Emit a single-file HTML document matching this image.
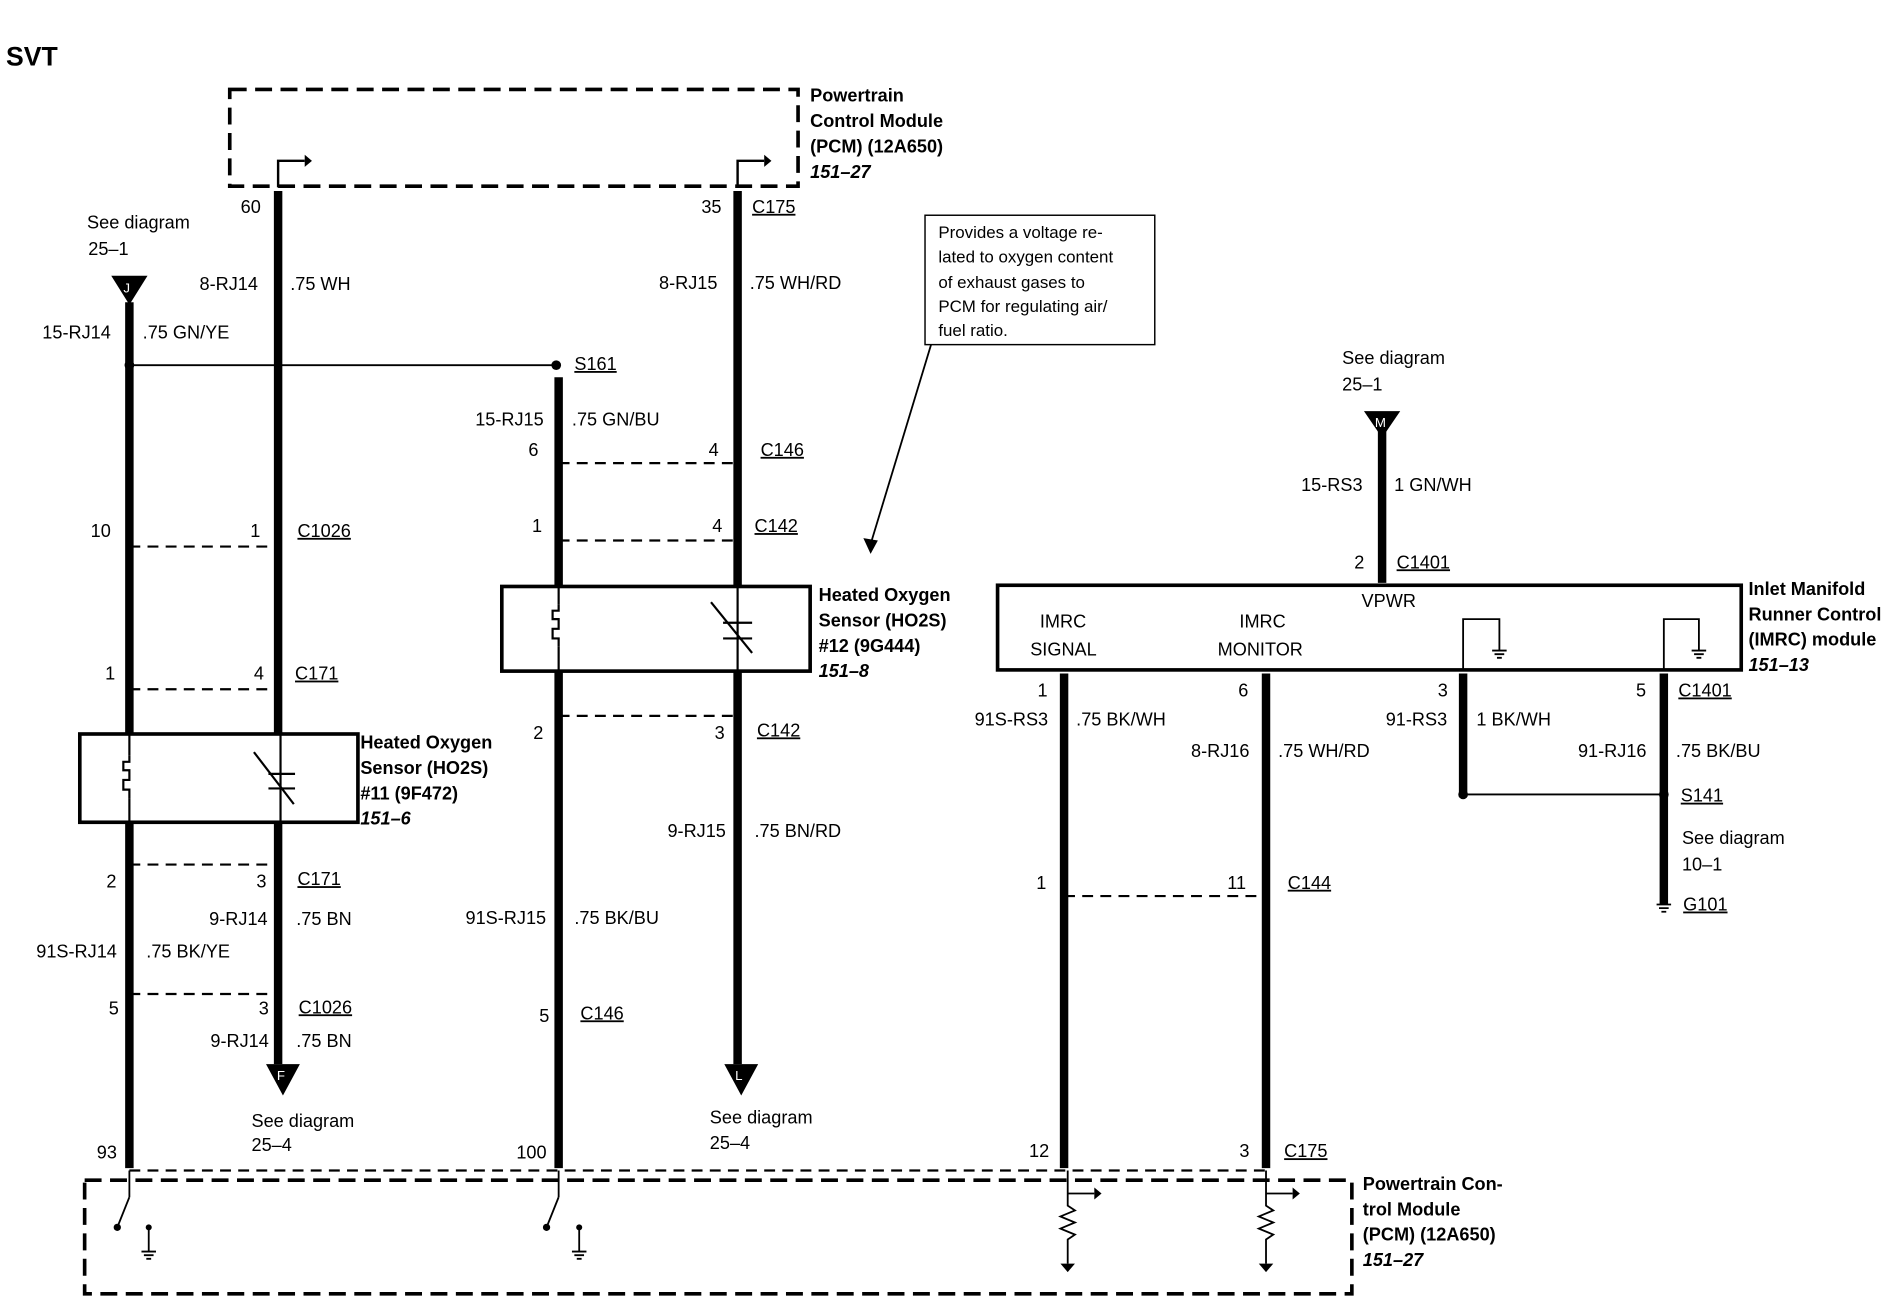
<!DOCTYPE html>
<html><head><meta charset="utf-8"><style>
html,body{margin:0;padding:0;background:#fff;}
svg{display:block;}
text{font-family:"Liberation Sans",Arial,sans-serif;font-size:15px;fill:#000;}
.b{font-weight:bold;}
.i{font-weight:bold;font-style:italic;}
</style></head><body>
<svg width="1896" height="1312" viewBox="0 0 1568 1085" preserveAspectRatio="none" xmlns="http://www.w3.org/2000/svg">
<rect width="1568" height="1085" fill="#fff"/>
<text x="5" y="54" class="b" style="font-size:22px">SVT</text>

<rect x="190" y="74" width="470" height="80" fill="none" stroke="#000" stroke-width="3" stroke-dasharray="14,7"/>
<text x="670" y="84" class="b">Powertrain</text>
<text x="670" y="105" class="b">Control Module</text>
<text x="670" y="126" class="b">(PCM) (12A650)</text>
<text x="670" y="147" class="i">151–27</text>
<g stroke="#000" stroke-width="2" fill="none">
<path d="M230 155 V133 H252"/><path d="M610 155 V133 H632"/>
</g>
<path d="M252 128 L258 133 L252 138Z M632 128 L638 133 L632 138Z"/>

<g stroke="#000" stroke-width="7" fill="none">
<line x1="230" y1="158" x2="230" y2="880"/>
<line x1="610" y1="158" x2="610" y2="880"/>
<line x1="107" y1="250" x2="107" y2="966"/>
<line x1="462" y1="312" x2="462" y2="966"/>
<line x1="1143" y1="355" x2="1143" y2="482"/>
<line x1="880" y1="557" x2="880" y2="966"/>
<line x1="1047" y1="557" x2="1047" y2="966"/>
<line x1="1210" y1="557" x2="1210" y2="655"/>
<line x1="1376" y1="557" x2="1376" y2="748"/>
</g>
<path d="M220 880 H248 L234 906Z M599 880 H627 L613 906Z"/>
<text x="229" y="893" style="font-size:11px;fill:#fff">F</text>
<text x="608" y="893" style="font-size:11px;fill:#fff">L</text>
<path d="M92 228 H122 L107 252Z M1128 340 H1158 L1143 362Z"/>
<text x="102" y="242" style="font-size:11px;fill:#fff">J</text>
<text x="1137" y="353" style="font-size:11px;fill:#fff">M</text>

<g stroke="#000" stroke-width="1.5" fill="none">
<line x1="107" y1="302" x2="460" y2="302"/>
<line x1="1210" y1="657" x2="1376" y2="657"/>
<line x1="770" y1="285" x2="720" y2="450"/>
</g>
<path d="M714 445 L720 458 L726 447Z"/>
<circle cx="107" cy="302" r="4"/><circle cx="460" cy="302" r="4"/>
<circle cx="1210" cy="657" r="4"/><circle cx="1376" cy="657" r="4"/>

<g stroke="#000" stroke-width="1.8" stroke-dasharray="9,6" fill="none">
<line x1="107" y1="452" x2="232" y2="452"/>
<line x1="107" y1="570" x2="232" y2="570"/>
<line x1="107" y1="715" x2="232" y2="715"/>
<line x1="107" y1="822" x2="232" y2="822"/>
<line x1="462" y1="383" x2="610" y2="383"/>
<line x1="462" y1="447" x2="610" y2="447"/>
<line x1="462" y1="592" x2="610" y2="592"/>
<line x1="880" y1="741" x2="1047" y2="741"/>
<line x1="107" y1="968" x2="1047" y2="968"/>
</g>

<rect x="66" y="607" width="230" height="73" fill="#fff" stroke="#000" stroke-width="3"/>
<g stroke="#000" stroke-width="1.8" fill="none">
<line x1="107" y1="607" x2="107" y2="625"/><line x1="107" y1="660" x2="107" y2="680"/><line x1="232" y1="607" x2="232" y2="680"/>
<path d="M107 625 V630 H102 V637 H107 V645 H102 V653 H107 V660"/>
<line x1="210" y1="622" x2="243" y2="665"/><line x1="222" y1="640" x2="244" y2="640"/><line x1="222" y1="652" x2="244" y2="652"/>
</g>
<text x="298" y="619" class="b">Heated Oxygen</text>
<text x="298" y="640" class="b">Sensor (HO2S)</text>
<text x="298" y="661" class="b">#11 (9F472)</text>
<text x="298" y="682" class="i">151–6</text>

<rect x="415" y="485" width="255" height="70" fill="#fff" stroke="#000" stroke-width="3"/>
<g stroke="#000" stroke-width="1.8" fill="none">
<line x1="462" y1="485" x2="462" y2="500"/><line x1="462" y1="535" x2="462" y2="555"/><line x1="610" y1="485" x2="610" y2="555"/>
<path d="M462 500 V505 H457 V512 H462 V520 H457 V528 H462 V535"/>
<line x1="588" y1="498" x2="622" y2="540"/><line x1="598" y1="515" x2="622" y2="515"/><line x1="598" y1="528" x2="622" y2="528"/>
</g>
<text x="677" y="497" class="b">Heated Oxygen</text>
<text x="677" y="518" class="b">Sensor (HO2S)</text>
<text x="677" y="539" class="b">#12 (9G444)</text>
<text x="677" y="560" class="i">151–8</text>

<rect x="765" y="178" width="190" height="107" fill="#fff" stroke="#000" stroke-width="1.2"/>
<text x="776" y="197" style="font-size:14px">Provides a voltage re-</text>
<text x="776" y="217" style="font-size:14px">lated to oxygen content</text>
<text x="776" y="238" style="font-size:14px">of exhaust gases to</text>
<text x="776" y="258" style="font-size:14px">PCM for regulating air/</text>
<text x="776" y="278" style="font-size:14px">fuel ratio.</text>

<rect x="825" y="484" width="615" height="70" fill="#fff" stroke="#000" stroke-width="3"/>
<text x="1126" y="502">VPWR</text>
<text x="860" y="519">IMRC</text><text x="852" y="542">SIGNAL</text>
<text x="1025" y="519">IMRC</text><text x="1007" y="542">MONITOR</text>
<g stroke="#000" stroke-width="1.5" fill="none">
<path d="M1210 554 V512 H1240 V538"/><path d="M1376 554 V512 H1405 V538"/>
<path d="M1234 538 H1246 M1236 541 H1244 M1238 544 H1242"/>
<path d="M1399 538 H1411 M1401 541 H1409 M1403 544 H1407"/>
<path d="M1370 748 H1382 M1372 751 H1380 M1374 754 H1378"/>
</g>
<text x="1446" y="492" class="b">Inlet Manifold</text>
<text x="1446" y="513" class="b">Runner Control</text>
<text x="1446" y="534" class="b">(IMRC) module</text>
<text x="1446" y="555" class="i">151–13</text>

<rect x="70" y="976" width="1048" height="94" fill="none" stroke="#000" stroke-width="3" stroke-dasharray="14,7"/>
<text x="1127" y="984" class="b">Powertrain Con-</text>
<text x="1127" y="1005" class="b">trol Module</text>
<text x="1127" y="1026" class="b">(PCM) (12A650)</text>
<text x="1127" y="1047" class="i">151–27</text>
<g stroke="#000" stroke-width="1.5" fill="none">
<line x1="107" y1="968" x2="107" y2="990"/><line x1="107" y1="990" x2="97" y2="1015"/>
<line x1="462" y1="968" x2="462" y2="990"/><line x1="462" y1="990" x2="452" y2="1015"/>
<line x1="123" y1="1015" x2="123" y2="1035"/><line x1="479" y1="1015" x2="479" y2="1035"/>
<path d="M117 1035 H129 M119 1038 H127 M121 1041 H125"/><path d="M473 1035 H485 M475 1038 H483 M477 1041 H481"/>
<path d="M883 968 V987 H905 M883 987 V997 l6 4 -12 5 12 5 -12 5 12 5 -6 4 V1045"/>
<path d="M1047 968 V987 H1069 M1047 987 V997 l6 4 -12 5 12 5 -12 5 12 5 -6 4 V1045"/>
</g>
<circle cx="97" cy="1015" r="3"/><circle cx="452" cy="1015" r="3"/>
<circle cx="123" cy="1015" r="2.5"/><circle cx="479" cy="1015" r="2.5"/>
<path d="M905 982 L911 987 L905 992Z M1069 982 L1075 987 L1069 992Z"/>
<path d="M877 1045 H889 L883 1052Z M1041 1045 H1053 L1047 1052Z"/>

<text x="199" y="176">60</text><text x="580" y="176">35</text>
<text x="622" y="176" text-decoration="underline">C175</text>
<text x="72" y="189">See diagram</text><text x="73" y="211">25–1</text>
<text x="165" y="240">8-RJ14</text><text x="240" y="240">.75 WH</text>
<text x="545" y="239">8-RJ15</text><text x="620" y="239">.75 WH/RD</text>
<text x="35" y="280">15-RJ14</text><text x="118" y="280">.75 GN/YE</text>
<text x="475" y="306" text-decoration="underline">S161</text>
<text x="393" y="352">15-RJ15</text><text x="473" y="352">.75 GN/BU</text>
<text x="437" y="377">6</text><text x="586" y="377">4</text><text x="629" y="377" text-decoration="underline">C146</text>
<text x="440" y="440">1</text><text x="589" y="440">4</text><text x="624" y="440" text-decoration="underline">C142</text>
<text x="75" y="444">10</text><text x="207" y="444">1</text><text x="246" y="444" text-decoration="underline">C1026</text>
<text x="87" y="562">1</text><text x="210" y="562">4</text><text x="244" y="562" text-decoration="underline">C171</text>
<text x="441" y="611">2</text><text x="591" y="611">3</text><text x="626" y="609" text-decoration="underline">C142</text>
<text x="552" y="692">9-RJ15</text><text x="624" y="692">.75 BN/RD</text>
<text x="88" y="734">2</text><text x="212" y="734">3</text><text x="246" y="732" text-decoration="underline">C171</text>
<text x="173" y="765">9-RJ14</text><text x="245" y="765">.75 BN</text>
<text x="385" y="764">91S-RJ15</text><text x="475" y="764">.75 BK/BU</text>
<text x="30" y="792">91S-RJ14</text><text x="121" y="792">.75 BK/YE</text>
<text x="90" y="839">5</text><text x="214" y="839">3</text><text x="247" y="838" text-decoration="underline">C1026</text>
<text x="446" y="845">5</text><text x="480" y="843" text-decoration="underline">C146</text>
<text x="174" y="866">9-RJ14</text><text x="245" y="866">.75 BN</text>
<text x="208" y="932">See diagram</text><text x="208" y="952">25–4</text>
<text x="587" y="929">See diagram</text><text x="587" y="950">25–4</text>
<text x="80" y="958">93</text><text x="427" y="958">100</text>
<text x="851" y="957">12</text><text x="1025" y="957">3</text><text x="1062" y="957" text-decoration="underline">C175</text>
<text x="1110" y="301">See diagram</text><text x="1110" y="323">25–1</text>
<text x="1076" y="406">15-RS3</text><text x="1153" y="406">1 GN/WH</text>
<text x="1120" y="470">2</text><text x="1155" y="470" text-decoration="underline">C1401</text>
<text x="858" y="576">1</text><text x="1024" y="576">6</text><text x="1189" y="576">3</text><text x="1353" y="576">5</text>
<text x="1388" y="576" text-decoration="underline">C1401</text>
<text x="806" y="600">91S-RS3</text><text x="890" y="600">.75 BK/WH</text>
<text x="1146" y="600">91-RS3</text><text x="1221" y="600">1 BK/WH</text>
<text x="985" y="626">8-RJ16</text><text x="1057" y="626">.75 WH/RD</text>
<text x="1305" y="626">91-RJ16</text><text x="1386" y="626">.75 BK/BU</text>
<text x="1390" y="663" text-decoration="underline">S141</text>
<text x="1391" y="698">See diagram</text><text x="1391" y="720">10–1</text>
<text x="1392" y="753" text-decoration="underline">G101</text>
<text x="857" y="735">1</text><text x="1015" y="735">11</text><text x="1065" y="735" text-decoration="underline">C144</text>
</svg>
</body></html>
